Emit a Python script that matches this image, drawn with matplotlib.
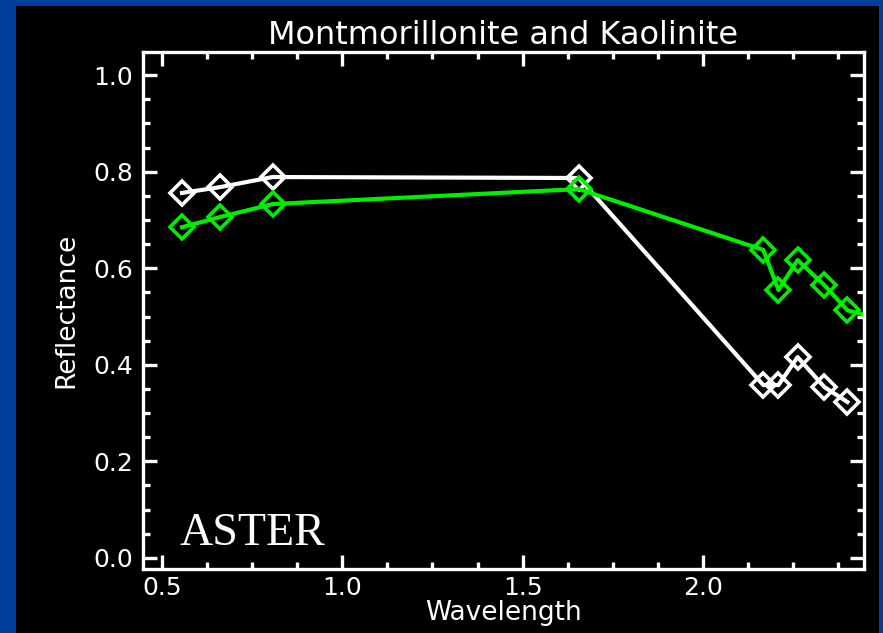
import matplotlib
matplotlib.use("Agg")
import matplotlib.pyplot as plt
from matplotlib.patches import Rectangle
from matplotlib.ticker import MultipleLocator, FormatStrFormatter

# ASTER band centres (um) and reflectances
wavelength = [0.556, 0.661, 0.807, 1.656, 2.167, 2.209, 2.262, 2.336, 2.400]
montmorillonite = [0.756, 0.768, 0.789, 0.787, 0.358, 0.358, 0.416, 0.354, 0.323]
wavelength_k = [0.556, 0.661, 0.807, 1.656, 2.167, 2.209, 2.262, 2.336, 2.400, 2.500]
kaolinite = [0.685, 0.706, 0.733, 0.764, 0.638, 0.555, 0.617, 0.565, 0.513, 0.493]

fig = plt.figure(figsize=(8.83, 6.33), dpi=100, facecolor='#003f9c')
fig.patches.append(Rectangle((16 / 883, 0), 863 / 883, 627 / 633,
                             transform=fig.transFigure, facecolor='black',
                             edgecolor='none', zorder=-5))

ax = fig.add_axes([143 / 883, 1 - 569 / 633, 721 / 883, 517 / 633])
ax.set_zorder(2)
ax.set_facecolor('black')

ax.plot(wavelength, montmorillonite, color='white', lw=3, marker='D',
        ms=12, mfc='none', mec='white', mew=2.6)
ax.plot(wavelength_k, kaolinite, color='#00ee00', lw=3, marker='D',
        ms=12, mfc='none', mec='#00ee00', mew=2.6)

ax.set_xlim(0.448, 2.446)
ax.set_ylim(-0.023, 1.048)
ax.xaxis.set_major_locator(MultipleLocator(0.5))
ax.xaxis.set_minor_locator(MultipleLocator(0.125))
ax.yaxis.set_major_locator(MultipleLocator(0.2))
ax.yaxis.set_minor_locator(MultipleLocator(0.05))
ax.xaxis.set_major_formatter(FormatStrFormatter('%.1f'))
ax.yaxis.set_major_formatter(FormatStrFormatter('%.1f'))

for s in ax.spines.values():
    s.set_color('white')
    s.set_linewidth(2.4)
ax.tick_params(which='both', direction='in', top=True, right=True,
               color='white', labelcolor='white', width=2.4, labelsize=18)
ax.tick_params(which='major', length=10)
ax.tick_params(which='minor', length=5)
ax.tick_params(axis='x', which='major', pad=5)
ax.tick_params(axis='y', which='major', pad=7)

ax.set_title('Montmorillonite and Kaolinite', color='white', fontsize=23, pad=6)
ax.set_xlabel('Wavelength', color='white', fontsize=19, labelpad=0)
ax.set_ylabel('Reflectance', color='white', fontsize=19, labelpad=10)

fig.text(180 / 883, 1 - 545 / 633, 'ASTER', color='white', fontsize=33,
         family='Liberation Serif', va='baseline', ha='left', zorder=5)

fig.savefig('out.png', dpi=100, facecolor=fig.get_facecolor())
